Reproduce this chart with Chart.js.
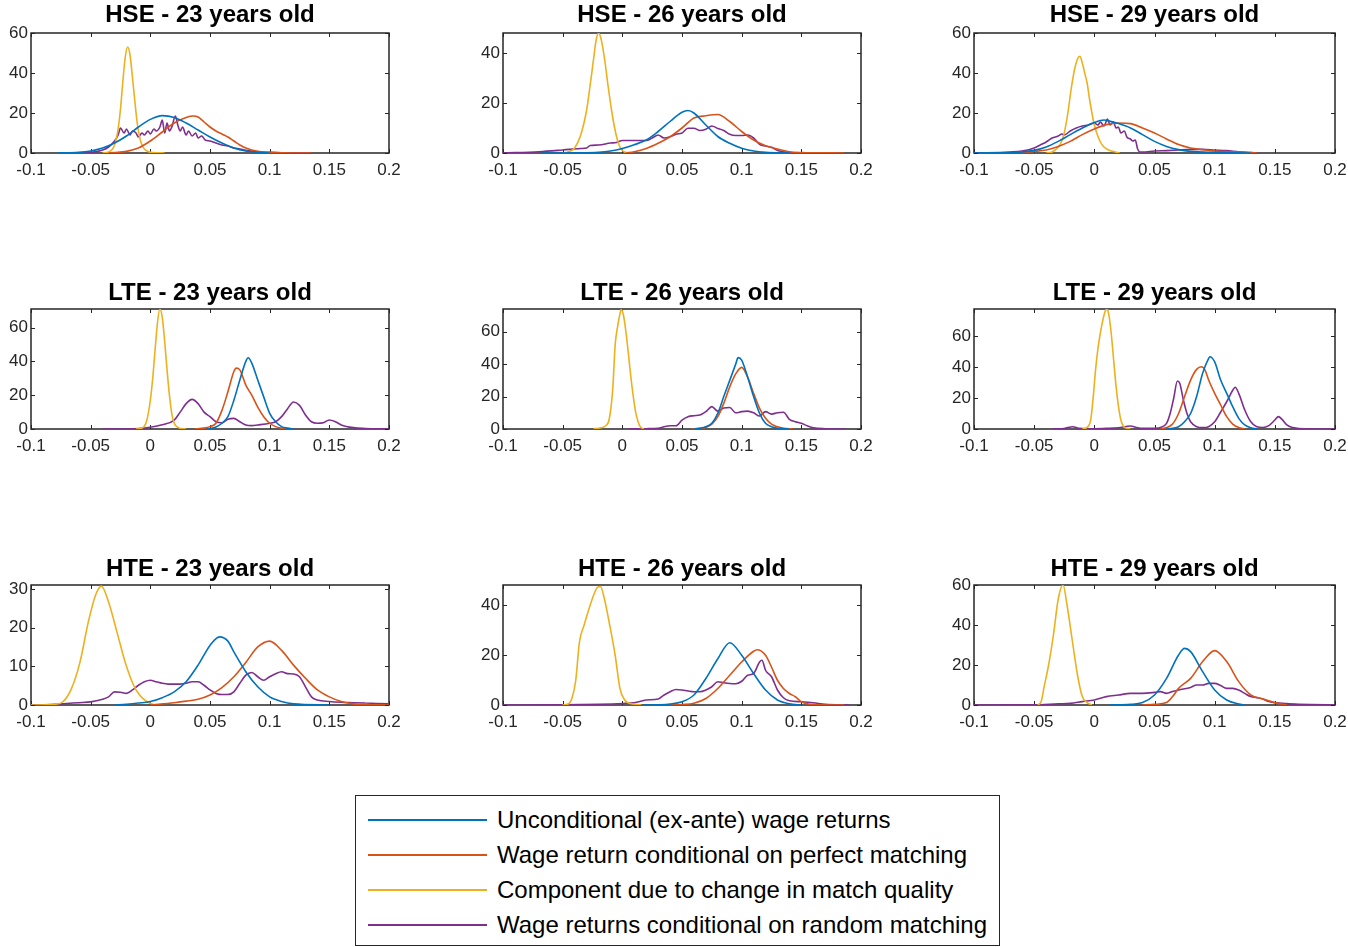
<!DOCTYPE html>
<html>
<head>
<meta charset="utf-8">
<script src="https://cdn.jsdelivr.net/npm/chart.js@4.4.1/dist/chart.umd.min.js"></script>
<style>
  body { margin: 0; background: #fff; width: 1348px; height: 947px; position: relative; overflow: hidden; font-family: "Liberation Sans", Arial, sans-serif; }
  canvas { position: absolute; }
  #legend { position: absolute; left: 355px; top: 795px; width: 643px; height: 149px; border: 1.5px solid #262626; background: #fff; }
  .item { position: absolute; left: 0; height: 35px; width: 643px; }
  .item span.line { position: absolute; left: 12px; width: 119px; height: 2px; top: 16px; }
  .item span.txt { position: absolute; left: 141px; top: 2px; font-size: 24px; color: #000; white-space: nowrap; line-height: 30px; }
</style>
</head>
<body>
<div id="legend"></div>
<script>
// namen van de vier lijnen
const seriesNames = [
  "Unconditional (ex-ante) wage returns",
  "Wage return conditional on perfect matching",
  "Component due to change in match quality",
  "Wage returns conditional on random matching"
];

const titles = [
  "HSE - 23 years old", "HSE - 26 years old", "HSE - 29 years old",
  "LTE - 23 years old", "LTE - 26 years old", "LTE - 29 years old",
  "HTE - 23 years old", "HTE - 26 years old", "HTE - 29 years old"
];

const xTicks = [-0.1, -0.05, 0, 0.05, 0.1, 0.15, 0.2];
const xTickLabels = ["-0.1", "-0.05", "0", "0.05", "0.1", "0.15", "0.2"];

const yTicks = [
  [0, 20, 40, 60], [0, 20, 40], [0, 20, 40, 60],
  [0, 20, 40, 60], [0, 20, 40, 60], [0, 20, 40, 60],
  [0, 10, 20, 30], [0, 20, 40], [0, 20, 40, 60]
];
const yMax = [60, 48, 60, 71, 74, 77.5, 31, 48, 60];

// ---- HSE 23 ----
const hse23Blue = [[-0.078,0],[-0.06,0.3],[-0.05,1],[-0.04,2.5],[-0.03,5],[-0.02,8.5],[-0.01,13],[0,16.8],[0.01,18.7],[0.02,17.8],[0.03,15],[0.04,11.5],[0.05,8],[0.06,5],[0.07,2.5],[0.08,1],[0.09,0.3],[0.1,0]];
const hse23Red = [[-0.035,0],[-0.03,0.2],[-0.02,0.8],[-0.01,2.5],[0,6],[0.01,10.5],[0.02,15],[0.03,17.8],[0.036,18.5],[0.04,18],[0.045,15.5],[0.05,13],[0.055,11],[0.06,9.5],[0.065,8],[0.07,6],[0.075,4],[0.08,2.5],[0.09,0.8],[0.1,0.3],[0.11,0.1],[0.135,0]];
const hse23Yellow = [[-0.04,0],[-0.035,0.5],[-0.03,4],[-0.027,12],[-0.025,22],[-0.023,36],[-0.021,48],[-0.019,53],[-0.017,49],[-0.015,38],[-0.013,26],[-0.011,15],[-0.009,8],[-0.007,4],[-0.005,2],[-0.002,0.7],[0.003,0.2],[0.012,0]];
const hse23Purple = [[-0.07,0],[-0.05,0.3],[-0.04,1.5],[-0.035,3],[-0.03,6],[-0.027,9],[-0.025,12.5],[-0.022,10],[-0.02,12],[-0.017,9],[-0.015,11],[-0.012,10],[-0.01,8],[-0.007,10],[-0.005,9],[-0.002,11],[0,9.5],[0.003,12],[0.005,11],[0.008,13],[0.01,16.5],[0.012,10],[0.014,15],[0.016,11],[0.018,13],[0.021,18.5],[0.023,14],[0.025,11],[0.027,13],[0.03,9],[0.032,11],[0.035,8.5],[0.038,10],[0.04,7.5],[0.043,8.5],[0.046,6.5],[0.05,6],[0.055,5],[0.06,4],[0.065,3.5],[0.07,2.5],[0.075,2],[0.08,1.3],[0.09,0.6],[0.1,0.3],[0.11,0.1],[0.135,0]];

// ---- HSE 26 ----
const hse26Blue = [[-0.068,0],[-0.04,0.1],[-0.02,0.3],[-0.01,0.8],[0,1.8],[0.01,3.3],[0.02,5.2],[0.03,8.6],[0.04,12.6],[0.05,16.3],[0.055,17],[0.06,16],[0.07,11.2],[0.08,6.6],[0.09,3.9],[0.1,1.9],[0.11,0.8],[0.12,0.3],[0.14,0]];
const hse26Red = [[0.003,0],[0.01,0.5],[0.02,1.8],[0.03,3.9],[0.04,6.5],[0.05,10],[0.06,14],[0.07,14.9],[0.08,15.4],[0.09,12.6],[0.1,8.6],[0.11,5.2],[0.12,2.9],[0.13,1.6],[0.14,0.5],[0.15,0.2],[0.186,0]];
const hse26Yellow = [[-0.05,0],[-0.045,0.5],[-0.04,2],[-0.035,7],[-0.03,17],[-0.027,27],[-0.024,38],[-0.022,45],[-0.02,48],[-0.018,46],[-0.015,38],[-0.012,27],[-0.009,17],[-0.006,9],[-0.003,3.5],[0,1],[0.004,0]];
const hse26Purple = [[-0.1,0],[-0.07,0.5],[-0.05,1.2],[-0.035,1.8],[-0.03,2],[-0.027,3],[-0.02,3.2],[-0.01,4],[-0.005,4.2],[0,5],[0.01,5],[0.02,5],[0.025,6],[0.03,7.2],[0.035,6],[0.04,6.5],[0.045,7.5],[0.05,8],[0.055,9.9],[0.06,9.9],[0.065,9],[0.07,9.5],[0.075,10.8],[0.08,9.8],[0.085,9],[0.09,7.5],[0.095,7],[0.1,7],[0.105,7.2],[0.11,6],[0.115,3.5],[0.12,2.8],[0.125,2.3],[0.13,1],[0.14,0.2],[0.155,0]];

// ---- HSE 29 ----
const hse29Blue = [[-0.1,0],[-0.07,0.2],[-0.06,0.5],[-0.05,1.3],[-0.04,3],[-0.03,5.8],[-0.02,9.2],[-0.01,12.5],[0,15.3],[0.008,16.5],[0.01,16.3],[0.02,14.7],[0.03,12.5],[0.04,9.2],[0.05,5.8],[0.06,3.3],[0.07,1.7],[0.08,0.8],[0.1,0.3],[0.13,0]];
const hse29Red = [[-0.08,0],[-0.06,0.3],[-0.05,0.8],[-0.04,1.5],[-0.03,3.3],[-0.02,5.8],[-0.01,9.2],[0,12],[0.01,14.2],[0.02,15],[0.03,14.7],[0.04,12.5],[0.05,10],[0.06,7],[0.07,4.2],[0.08,2.5],[0.09,1.7],[0.1,1],[0.11,0.7],[0.12,0.5],[0.135,0]];
const hse29Yellow = [[-0.04,0],[-0.035,0.5],[-0.03,3],[-0.027,6],[-0.025,10],[-0.022,20],[-0.019,33],[-0.016,43],[-0.014,47],[-0.012,48.3],[-0.01,45],[-0.008,40],[-0.006,35],[-0.004,27],[-0.002,20],[0,14],[0.002,10],[0.005,5.5],[0.008,3],[0.012,1.5],[0.016,0.7],[0.021,0]];
const hse29Purple = [[-0.1,0],[-0.07,0.5],[-0.06,1],[-0.05,2.5],[-0.045,4],[-0.04,5.5],[-0.035,7.5],[-0.03,8.5],[-0.027,9.5],[-0.025,9],[-0.02,11],[-0.015,12.5],[-0.01,13.5],[-0.005,14],[0,15],[0.003,14],[0.005,15.5],[0.008,13.5],[0.011,17],[0.013,14],[0.016,15.5],[0.018,12.5],[0.02,13],[0.022,10],[0.025,11],[0.027,8],[0.03,7],[0.032,6],[0.034,6.5],[0.036,2],[0.038,0.5],[0.04,0.5],[0.05,1],[0.06,1.2],[0.07,1.5],[0.08,1.8],[0.09,1.8],[0.1,1.5],[0.11,1.2],[0.12,0.6],[0.13,0.2],[0.135,0]];

// ---- LTE 23 ----
const lte23Blue = [[0.048,0],[0.055,1.2],[0.06,3.4],[0.065,7.3],[0.07,17],[0.075,29],[0.08,40],[0.082,42.2],[0.085,39],[0.09,29],[0.095,19],[0.1,9.3],[0.105,4.3],[0.11,1.4],[0.115,0.5],[0.12,0]];
const lte23Red = [[0.037,0],[0.045,0.5],[0.05,1.4],[0.055,3.4],[0.06,11],[0.065,22],[0.07,34],[0.072,36],[0.075,35],[0.08,26],[0.085,20],[0.09,13],[0.095,7.3],[0.1,3.4],[0.105,1.4],[0.11,0.5],[0.115,0]];
const lte23Yellow = [[-0.012,0],[-0.006,1],[-0.003,5],[0,17],[0.002,30],[0.004,47],[0.006,63],[0.008,71],[0.01,66],[0.012,52],[0.014,35],[0.016,20],[0.018,9],[0.02,3.5],[0.023,1],[0.027,0.2],[0.03,0]];
const lte23Purple = [[-0.04,0],[-0.01,0.3],[0,1],[0.01,2.5],[0.02,5.3],[0.025,10],[0.03,15],[0.035,17.5],[0.04,15],[0.045,10],[0.05,7.3],[0.055,4.3],[0.06,3.7],[0.065,5.7],[0.07,6.3],[0.075,4.3],[0.08,2.4],[0.085,2],[0.09,2.4],[0.1,3.4],[0.105,4.3],[0.11,7.3],[0.115,12],[0.12,16],[0.125,14],[0.13,8.3],[0.135,4.3],[0.14,3.4],[0.145,3.7],[0.15,5.3],[0.155,4.3],[0.16,2.4],[0.17,0.8],[0.18,0.3],[0.2,0]];

// ---- LTE 26 ----
const lte26Blue = [[0.06,0],[0.065,0.5],[0.07,1.4],[0.075,3.5],[0.08,9.6],[0.085,20],[0.09,30],[0.095,40],[0.097,44],[0.1,42.5],[0.105,32],[0.11,20],[0.115,9.6],[0.12,3.5],[0.125,1.4],[0.13,0.5],[0.14,0]];
const lte26Red = [[0.058,0],[0.065,0.4],[0.07,1],[0.075,3],[0.08,7.6],[0.085,15.8],[0.09,26],[0.095,34],[0.1,38],[0.105,32],[0.11,22],[0.115,12.7],[0.12,6.6],[0.125,3],[0.13,1.4],[0.135,0.5],[0.143,0]];
const lte26Yellow = [[-0.024,0],[-0.018,0.8],[-0.014,2],[-0.011,6],[-0.008,25],[-0.006,52],[-0.004,63],[-0.002,71],[-0.001,73.7],[0.001,70],[0.003,60],[0.005,47],[0.007,33],[0.009,21],[0.011,11],[0.013,5],[0.015,1.5],[0.018,0]];
const lte26Purple = [[0.005,0],[0.02,0.2],[0.03,0.4],[0.035,1.4],[0.04,2],[0.045,2],[0.05,5.5],[0.055,7.6],[0.06,8.2],[0.065,8.6],[0.07,10.7],[0.075,13.8],[0.08,11],[0.085,13],[0.09,13.3],[0.095,10],[0.1,10.7],[0.105,11],[0.11,10],[0.115,8],[0.12,10.7],[0.125,9.2],[0.13,10],[0.135,10.3],[0.14,6],[0.145,4.5],[0.15,3.5],[0.155,2],[0.16,0.8],[0.17,0.2],[0.187,0]];

// ---- LTE 29 ----
const lte29Blue = [[0.06,0],[0.065,0.5],[0.07,1.5],[0.075,4.7],[0.08,10],[0.085,21],[0.09,36],[0.095,45.6],[0.096,46.7],[0.1,43.4],[0.105,31.6],[0.11,23],[0.115,14.4],[0.12,6.9],[0.125,2.6],[0.13,0.8],[0.135,0]];
const lte29Red = [[0.055,0],[0.06,0.9],[0.065,3.2],[0.07,10],[0.075,21],[0.08,31.6],[0.085,38.5],[0.089,40.2],[0.092,38],[0.095,31.6],[0.1,23],[0.105,15.5],[0.11,8],[0.115,3.2],[0.12,0.9],[0.125,0]];
const lte29Yellow = [[-0.01,0],[-0.006,1],[-0.003,6],[-0.001,20],[0.001,38],[0.003,52],[0.005,62],[0.007,70],[0.009,76],[0.0105,77.8],[0.012,74],[0.014,62],[0.016,45],[0.018,28],[0.02,15],[0.022,6],[0.024,2],[0.027,0.5],[0.03,0]];
const lte29Purple = [[-0.035,0],[-0.025,0.3],[-0.018,1.5],[-0.013,0.5],[-0.005,0.2],[0,0.2],[0.01,0.4],[0.02,0.8],[0.03,1.9],[0.035,1],[0.04,0.4],[0.05,0.5],[0.055,1],[0.06,3.6],[0.063,10],[0.066,20],[0.069,31],[0.071,29.5],[0.074,18.7],[0.077,10],[0.08,4.7],[0.085,1.5],[0.09,0.9],[0.095,1.5],[0.1,4.7],[0.105,11],[0.11,17.6],[0.115,25],[0.117,27],[0.12,23],[0.125,12.3],[0.13,4.7],[0.135,1.5],[0.14,1],[0.145,2.2],[0.15,5.8],[0.153,8],[0.156,6.2],[0.16,2.6],[0.165,0.9],[0.17,0.3],[0.2,0]];

// ---- HTE 23 ----
const hte23Blue = [[-0.03,0],[-0.02,0.2],[-0.01,0.5],[0,0.9],[0.01,1.9],[0.02,3.4],[0.03,6],[0.04,10.3],[0.05,15.4],[0.058,17.6],[0.065,16.5],[0.07,13.7],[0.08,8.6],[0.09,4.7],[0.1,2.1],[0.11,0.9],[0.12,0.3],[0.15,0]];
const hte23Red = [[0,0],[0.02,0.6],[0.03,1],[0.04,1.5],[0.05,2.6],[0.06,4.5],[0.07,7.3],[0.08,11],[0.09,15],[0.1,16.5],[0.11,14.1],[0.12,10.3],[0.13,6.9],[0.14,3.9],[0.15,2.1],[0.16,0.9],[0.17,0.3],[0.18,0.1],[0.2,0]];
const hte23Yellow = [[-0.1,0],[-0.08,0.2],[-0.073,0.9],[-0.066,4.3],[-0.059,11],[-0.052,21.4],[-0.046,28.3],[-0.041,30.7],[-0.035,26.6],[-0.028,18.9],[-0.021,11],[-0.014,5.1],[-0.009,2.6],[-0.003,0.9],[0.002,0.2],[0.005,0]];
const hte23Purple = [[-0.1,0],[-0.08,0.2],[-0.07,0.4],[-0.06,0.6],[-0.05,0.8],[-0.04,1.5],[-0.035,2.1],[-0.03,3.4],[-0.025,3.3],[-0.02,3],[-0.015,3.9],[-0.01,5.1],[-0.005,6],[0,6.4],[0.005,6],[0.01,5.6],[0.015,5.4],[0.02,5.4],[0.025,5.4],[0.03,5.6],[0.035,6],[0.04,6],[0.045,5.1],[0.05,3.9],[0.055,3],[0.06,2.7],[0.065,2.7],[0.07,3.4],[0.075,5.6],[0.08,7.7],[0.085,8.4],[0.09,7.3],[0.095,6.4],[0.1,7.3],[0.105,8.1],[0.11,8.6],[0.115,8.1],[0.12,8],[0.125,7.3],[0.13,4.7],[0.135,2.1],[0.14,1.3],[0.15,0.9],[0.16,0.7],[0.17,0.6],[0.18,0.5],[0.19,0.4],[0.2,0.3]];

// ---- HTE 26 ----
const hte26Blue = [[0.018,0],[0.03,0.1],[0.04,0.4],[0.05,1.3],[0.06,4],[0.07,10.6],[0.08,18.5],[0.09,24.9],[0.1,19.9],[0.11,12.6],[0.12,6],[0.13,2],[0.14,0.5],[0.15,0]];
const hte26Red = [[0.04,0],[0.05,0.2],[0.06,0.7],[0.07,2.6],[0.08,6.6],[0.09,11.9],[0.1,17.2],[0.11,21.5],[0.113,22.1],[0.12,19.9],[0.125,15.2],[0.13,9.9],[0.135,6.6],[0.14,4.6],[0.145,3.3],[0.15,1.3],[0.155,0.5],[0.16,0.2],[0.186,0]];
const hte26Yellow = [[-0.05,0],[-0.045,0.5],[-0.042,3],[-0.039,10],[-0.036,25],[-0.032,32],[-0.028,38.4],[-0.024,44],[-0.021,47],[-0.0184,47.4],[-0.015,42.4],[-0.011,33],[-0.006,19.9],[-0.002,6.6],[0.002,2],[0.006,0.7],[0.012,0.2],[0.016,0]];
const hte26Purple = [[-0.1,0],[-0.05,0.1],[-0.02,0.3],[0,0.6],[0.01,0.9],[0.02,2],[0.03,2.4],[0.035,4],[0.04,5.3],[0.045,6.2],[0.05,6],[0.055,5.6],[0.06,5.3],[0.065,5.3],[0.07,6],[0.075,7.3],[0.08,9.3],[0.085,8.9],[0.09,8.6],[0.095,8.5],[0.1,9.5],[0.105,11.9],[0.11,12.6],[0.115,17.2],[0.117,17.9],[0.12,13.9],[0.125,11.3],[0.13,6],[0.135,2.9],[0.14,1.7],[0.15,1.3],[0.16,0.9],[0.17,0.3],[0.19,0]];

// ---- HTE 29 ----
const hte29Blue = [[0.013,0],[0.03,0.3],[0.04,1.2],[0.05,5],[0.06,13.3],[0.07,25],[0.075,28.3],[0.08,26.7],[0.09,16.7],[0.1,7.5],[0.11,2.5],[0.12,0.5],[0.125,0]];
const hte29Red = [[0.04,0],[0.05,0.3],[0.06,1.2],[0.065,4.2],[0.07,8.3],[0.08,13.3],[0.09,21.7],[0.1,27.2],[0.11,21.7],[0.12,11.7],[0.13,5],[0.14,3],[0.15,1.2],[0.16,0]];
const hte29Yellow = [[-0.047,0],[-0.044,2],[-0.042,8.3],[-0.038,20],[-0.034,35],[-0.03,53],[-0.026,60],[-0.0227,50],[-0.0185,33],[-0.014,15],[-0.01,4.2],[-0.006,1.2],[-0.002,0]];
const hte29Purple = [[-0.1,0],[-0.05,0.1],[-0.03,0.6],[-0.02,0.8],[-0.01,1.7],[0,2.5],[0.01,4.2],[0.02,5],[0.03,5.8],[0.04,5.8],[0.05,6.3],[0.055,6.7],[0.06,5.8],[0.065,6.7],[0.07,7.5],[0.08,8.8],[0.085,10],[0.09,10],[0.095,10.8],[0.1,10.8],[0.105,9.7],[0.11,8.3],[0.115,8.3],[0.12,7.5],[0.125,5.8],[0.13,4.2],[0.135,3.7],[0.14,3],[0.145,1.7],[0.15,1.2],[0.16,0.7],[0.17,0.4],[0.18,0.2],[0.2,0]];

const panelSeries = [
  [hse23Blue, hse23Red, hse23Yellow, hse23Purple],
  [hse26Blue, hse26Red, hse26Yellow, hse26Purple],
  [hse29Blue, hse29Red, hse29Yellow, hse29Purple],
  [lte23Blue, lte23Red, lte23Yellow, lte23Purple],
  [lte26Blue, lte26Red, lte26Yellow, lte26Purple],
  [lte29Blue, lte29Red, lte29Yellow, lte29Purple],
  [hte23Blue, hte23Red, hte23Yellow, hte23Purple],
  [hte26Blue, hte26Red, hte26Yellow, hte26Purple],
  [hte29Blue, hte29Red, hte29Yellow, hte29Purple]
];

// ---- opmaak ----
const colors = ['#0072BD', '#D95319', '#EDB120', '#7E2F8E'];
const axisColor = '#262626';
const fontFamily = '"Liberation Sans", Arial, sans-serif';
const colLeft = [31, 503, 974];
const colWidth = [358, 358, 361];
const rowTop = [33, 309, 585];
const plotH = 120;
const titleOffset = [10, 12, 12];   // ruimte boven de titel per rij
const sideW = 40, titleH = 40, bottomH = 30;

// hier tekent die de doos en de tikjes naar binnen zoals matlab
const boxPlugin = {
  id: 'matlabBox',
  beforeDatasetsDraw(chart) {
    const { ctx, chartArea: a, scales } = chart;
    ctx.save();
    ctx.strokeStyle = axisColor;
    ctx.lineWidth = 1;
    ctx.beginPath();
    scales.x.ticks.forEach(t => {
      const px = Math.round(scales.x.getPixelForValue(t.value)) + 0.5;
      ctx.moveTo(px, a.bottom); ctx.lineTo(px, a.bottom - 4);
      ctx.moveTo(px, a.top); ctx.lineTo(px, a.top + 4);
    });
    scales.y.ticks.forEach(t => {
      const py = Math.round(scales.y.getPixelForValue(t.value)) + 0.5;
      ctx.moveTo(a.left, py); ctx.lineTo(a.left + 4, py);
      ctx.moveTo(a.right, py); ctx.lineTo(a.right - 4, py);
    });
    ctx.stroke();
    ctx.lineWidth = 1.5;
    ctx.strokeRect(a.left, a.top, a.right - a.left, a.bottom - a.top);
    ctx.restore();
  }
};

for (let i = 0; i < 9; i++) {
  const row = Math.floor(i / 3);
  const col = i % 3;
  const canvas = document.createElement('canvas');
  const w = colWidth[col] + 2 * sideW;
  const h = titleH + plotH + bottomH;
  canvas.width = w;
  canvas.height = h;
  canvas.style.left = (colLeft[col] - sideW) + 'px';
  canvas.style.top = (rowTop[row] - titleH) + 'px';
  canvas.style.width = w + 'px';
  canvas.style.height = h + 'px';
  document.body.appendChild(canvas);

  const ticksY = yTicks[i];
  new Chart(canvas, {
    type: 'line',
    data: {
      datasets: panelSeries[i].map((pts, k) => ({
        label: seriesNames[k],
        data: pts.map(p => ({ x: p[0], y: p[1] })),
        borderColor: colors[k],
        borderWidth: 1.6,
        pointRadius: 0,
        fill: false,
        cubicInterpolationMode: 'monotone'
      }))
    },
    options: {
      responsive: false,
      animation: false,
      events: [],
      layout: { padding: { right: sideW } },
      plugins: {
        legend: { display: false },
        tooltip: { enabled: false },
        title: {
          display: true,
          fullSize: false,   // titel in het midden boven het vak zelf
          text: titles[i],
          color: '#000',
          font: { family: fontFamily, size: 24, weight: 'bold', lineHeight: 1 },
          padding: { top: titleOffset[row], bottom: titleH - 24 - titleOffset[row] }
        }
      },
      scales: {
        x: {
          type: 'linear',
          min: -0.1,
          max: 0.2,
          grid: { display: false, drawTicks: false },
          border: { display: false },
          ticks: {
            color: axisColor,
            font: { family: fontFamily, size: 17 },
            padding: 7,
            autoSkip: false,
            maxRotation: 0,
            callback: (v, idx) => xTickLabels[idx]
          },
          afterBuildTicks: s => { s.ticks = xTicks.map(v => ({ value: v })); },
          afterFit: s => { s.height = bottomH; }
        },
        y: {
          type: 'linear',
          min: 0,
          max: yMax[i],
          grid: { display: false, drawTicks: false },
          border: { display: false },
          ticks: {
            color: axisColor,
            font: { family: fontFamily, size: 17 },
            padding: 3,
            autoSkip: false,
            callback: v => String(v)
          },
          afterBuildTicks: s => { s.ticks = ticksY.map(v => ({ value: v })); },
          afterFit: s => { s.width = sideW; }
        }
      }
    },
    plugins: [boxPlugin]
  });
}

// legenda onderaan
const legend = document.getElementById('legend');
seriesNames.forEach((name, k) => {
  const item = document.createElement('div');
  item.className = 'item';
  item.style.top = (7 + k * 35) + 'px';
  item.innerHTML = '<span class="line" style="background:' + colors[k] + '"></span><span class="txt">' + name + '</span>';
  legend.appendChild(item);
});
</script>
</body>
</html>
